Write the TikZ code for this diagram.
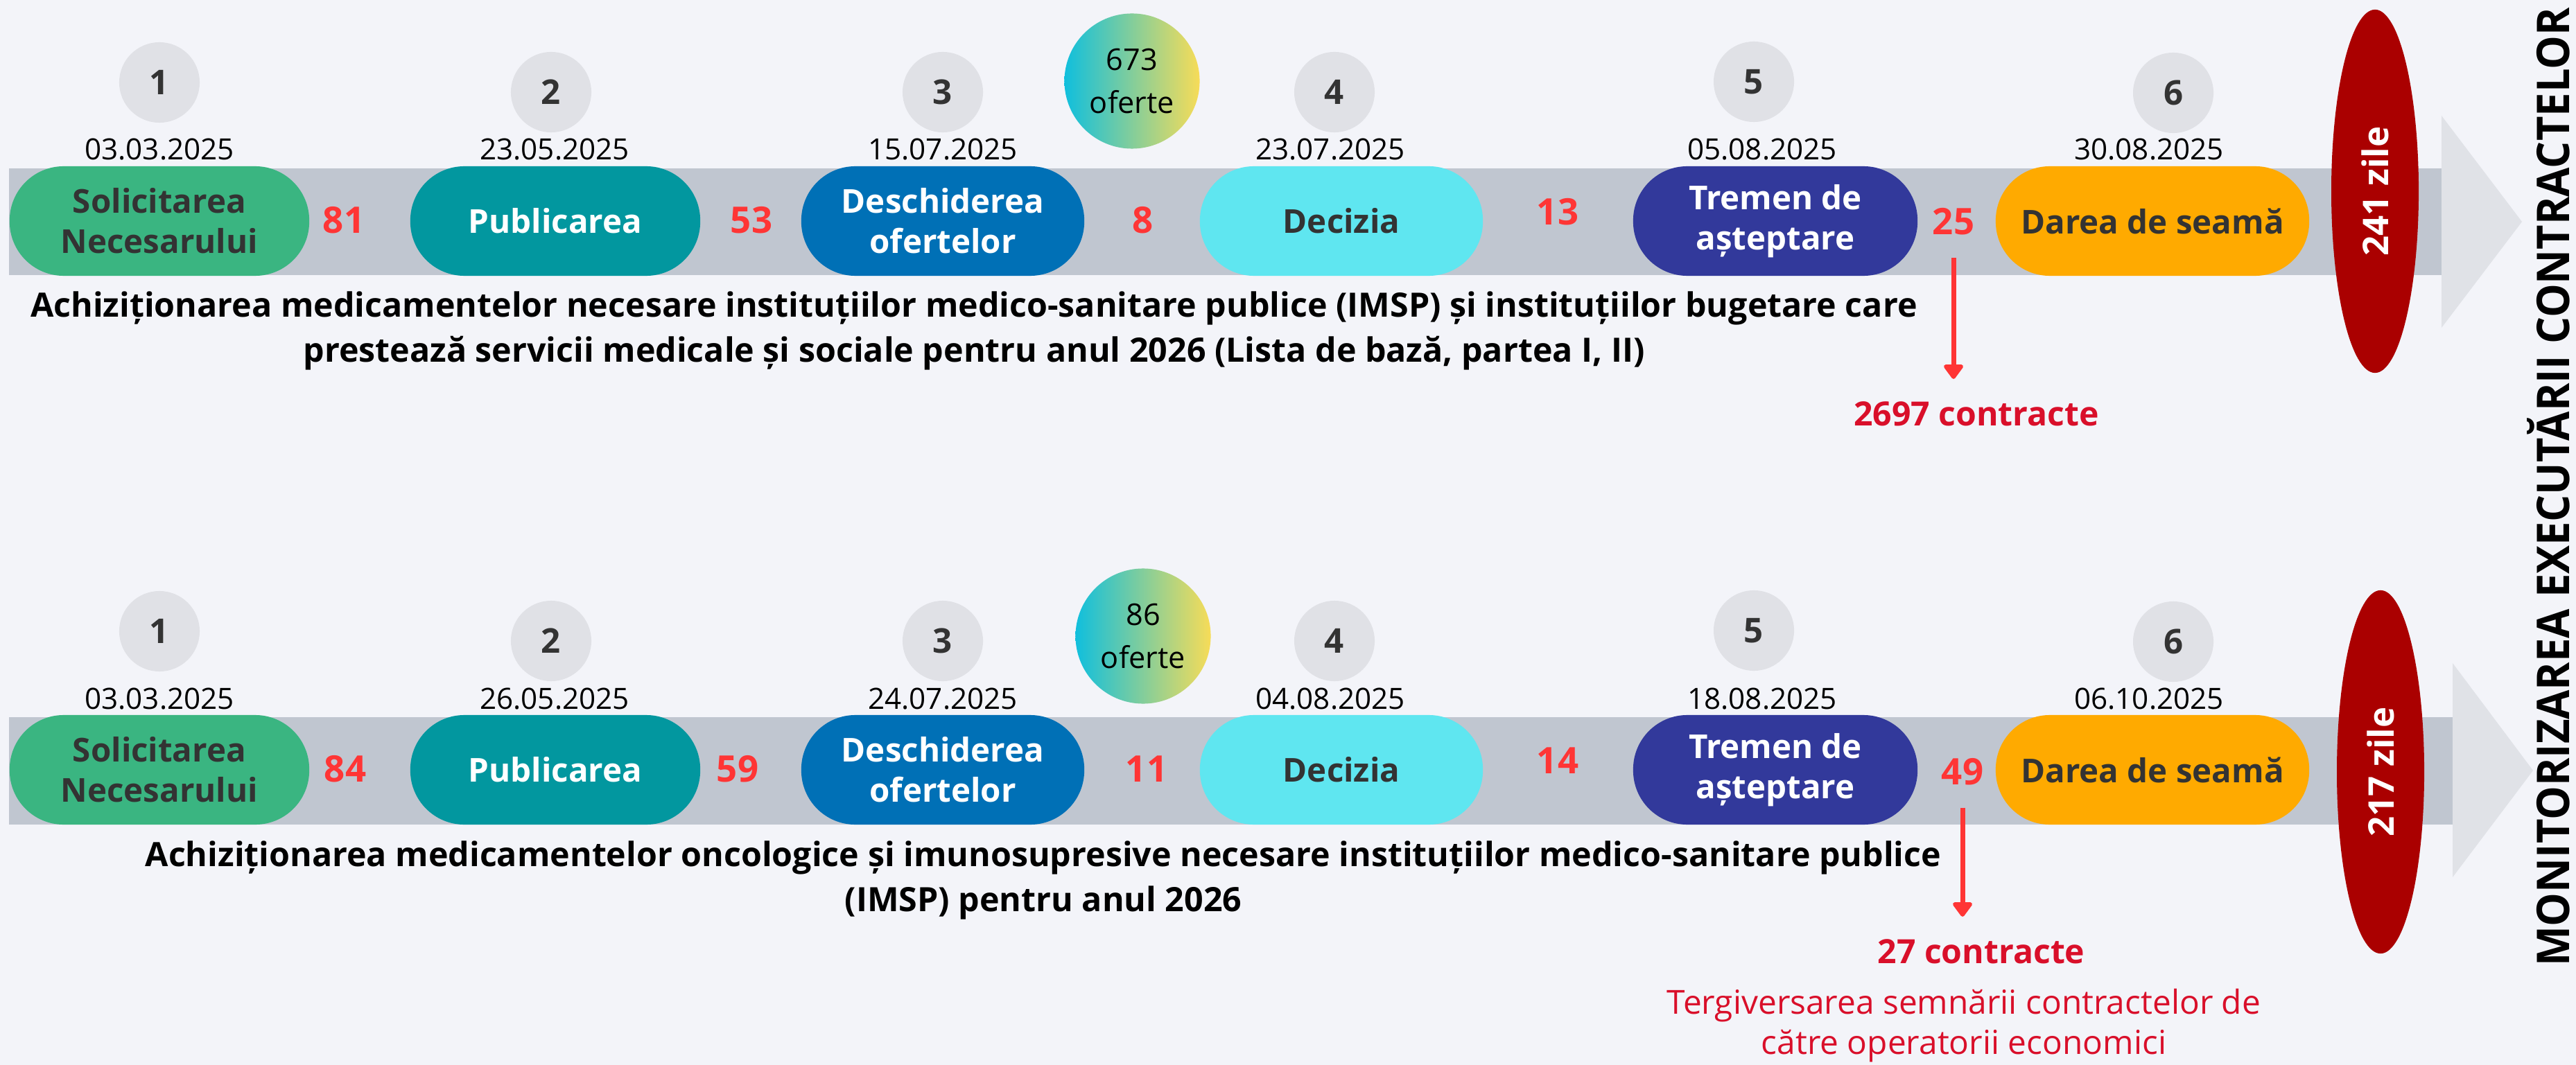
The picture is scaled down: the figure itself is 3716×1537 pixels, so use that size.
\documentclass[tikz,border=0pt]{standalone}
\usepackage{fontspec}
\setmainfont{Open Sans}
\usetikzlibrary{arrows.meta, positioning, shapes.geometric}
\definecolor{bgcol}{HTML}{F3F4F9}
\definecolor{bandgray}{HTML}{C0C6D0}
\definecolor{headgray}{HTML}{E0E2E7}
\definecolor{circgray}{HTML}{E0E1E6}
\definecolor{darktext}{HTML}{333333}
\definecolor{stepgreen}{HTML}{3AB581}
\definecolor{stepteal}{HTML}{02979F}
\definecolor{stepblue}{HTML}{0070B6}
\definecolor{stepcyan}{HTML}{5FE6F0}
\definecolor{stepindigo}{HTML}{32399B}
\definecolor{steporange}{HTML}{FFAA00}
\definecolor{numred}{HTML}{FF3535}
\definecolor{dayred}{HTML}{AA0000}
\definecolor{crimson}{HTML}{D90F2A}
\definecolor{gcyan}{HTML}{10BFDD}
\definecolor{ggreen}{HTML}{88D19C}
\definecolor{gyellow}{HTML}{F7DC58}

\begin{document}
\begin{tikzpicture}[x=0.01cm, y=-0.01cm, >=Stealth,
    stepnum/.style={circle, fill=circgray, minimum size=1.16cm, inner sep=0pt,
      text=darktext, font=\fontsize{14}{16}\selectfont\bfseries},
    datelbl/.style={font=\fontsize{12}{14}\selectfont},
    pill/.style={rectangle, rounded corners=0.78cm, minimum height=1.58cm,
      inner sep=0pt, align=center, font=\fontsize{13.5}{16.5}\selectfont\bfseries},
    gapnum/.style={text=numred, font=\fontsize{15}{18}\selectfont\bfseries},
    offers/.style={circle, minimum size=1.95cm, inner sep=0pt, align=center,
      left color=gcyan, middle color=ggreen, right color=gyellow,
      font=\fontsize{12.3}{17.5}\selectfont},
    daysbox/.style={ellipse, fill=dayred, minimum width=5.24cm, minimum height=1.26cm,
      inner sep=0pt, rotate=90, text=white, font=\fontsize{14.5}{16}\selectfont\bfseries},
    caption/.style={align=center, font=\fontsize{13.75}{18.5}\selectfont\bfseries},
    contrlbl/.style={text=crimson, font=\fontsize{13.7}{16}\selectfont\bfseries},
    redarrow/.style={-{Triangle[width=0.32cm, length=0.23cm, round]},
      line width=0.07cm, draw=numred}]

    % Background
    \fill[bgcol] (0,0) rectangle (3716,1537);
    \useasboundingbox (0,0) rectangle (3716,1537);

    % ---------------- Row 1 ----------------
    \fill[bandgray] (13,243) rectangle (3522,397);
    \fill[headgray] (3522,167) -- (3638,320) -- (3522,473) -- cycle;

    \foreach \n/\x/\y/\dx/\d in {1/230/119/230/03.03.2025, 2/795/133/800/23.05.2025,
        3/1360/133/1360/15.07.2025, 4/1925/133/1919/23.07.2025,
        5/2530/118/2542/05.08.2025, 6/3135/134/3100/30.08.2025} {
        \node[stepnum] (r1c\n) at (\x,\y) {\n};
        \node[datelbl] (r1d\n) at (\dx,216) {\d};
    }

    \foreach \n/\x/\w/\col/\tc/\lbl in {1/230/4.32/stepgreen/darktext/{Solicitarea\\Necesarului},
        2/801/4.18/stepteal/white/{Publicarea}, 3/1360/4.08/stepblue/white/{Deschiderea\\ofertelor},
        4/1935/4.08/stepcyan/darktext/{Decizia}, 5/2561/4.10/stepindigo/white/{Tremen de\\așteptare},
        6/3105/4.52/steporange/darktext/{Darea de seamă}} {
        \node[pill, fill=\col, text=\tc, minimum width=\w cm] (r1s\n) at (\x,319) {\lbl};
    }

    \foreach \n/\x/\y/\v in {1/496/318/81, 2/1084/318/53, 3/1649/318/8, 4/2247/306/13, 5/2818/320/25}
        \node[gapnum] (r1g\n) at (\x,\y) {\v};

    \node[offers] (r1off) at (1633,117) {673\\oferte};
    \node[daysbox] (r1days) at (3426,276) {241 zile};

    \node[caption] (r1cap) at (1405,477) {Achiziționarea medicamentelor necesare instituțiilor medico-sanitare publice (IMSP) și instituțiilor bugetare care\\prestează servicii medicale și sociale pentru anul 2026 (Lista de bază, partea I, II)};

    \node[contrlbl] (r1contr) at (2851,597) {2697 contracte};
    \draw[redarrow] ([yshift=-0.2cm]r1g5.south) -- ([yshift=0.2cm]r1g5.south |- r1contr.north);

    % ---------------- Row 2 ----------------
    \fill[bandgray] (13,1035) rectangle (3538,1190);
    \fill[headgray] (3538,957) -- (3654,1112) -- (3538,1266) -- cycle;

    \foreach \n/\x/\y/\dx/\d in {1/230/911/230/03.03.2025, 2/795/925/800/26.05.2025,
        3/1360/925/1360/24.07.2025, 4/1925/925/1919/04.08.2025,
        5/2530/910/2542/18.08.2025, 6/3135/926/3100/06.10.2025} {
        \node[stepnum] (r2c\n) at (\x,\y) {\n};
        \node[datelbl] (r2d\n) at (\dx,1008) {\d};
    }

    \foreach \n/\x/\w/\col/\tc/\lbl in {1/230/4.32/stepgreen/darktext/{Solicitarea\\Necesarului},
        2/801/4.18/stepteal/white/{Publicarea}, 3/1360/4.08/stepblue/white/{Deschiderea\\ofertelor},
        4/1935/4.08/stepcyan/darktext/{Decizia}, 5/2561/4.10/stepindigo/white/{Tremen de\\așteptare},
        6/3105/4.52/steporange/darktext/{Darea de seamă}} {
        \node[pill, fill=\col, text=\tc, minimum width=\w cm] (r2s\n) at (\x,1111) {\lbl};
    }

    \foreach \n/\x/\y/\v in {1/498/1110/84, 2/1064/1110/59, 3/1654/1110/11, 4/2247/1098/14, 5/2831/1114/49}
        \node[gapnum] (r2g\n) at (\x,\y) {\v};

    \node[offers] (r2off) at (1649,918) {86\\oferte};
    \node[daysbox] (r2days) at (3434,1114) {217 zile};

    \node[caption] (r2cap) at (1505,1270) {Achiziționarea medicamentelor oncologice și imunosupresive necesare instituțiilor medico-sanitare publice\\(IMSP) pentru anul 2026};

    \node[contrlbl] (r2contr) at (2858,1373) {27 contracte};
    \draw[redarrow] ([yshift=-0.2cm]r2g5.south) -- ([yshift=0.2cm]r2g5.south |- r2contr.north);
    \node[text=crimson, align=center, font=\fontsize{13.6}{16.3}\selectfont] (r2note)
        at (2833,1480) {Tergiversarea semnării contractelor de\\către operatorii economici};

    % Vertical title
    \node[rotate=90, anchor=base, inner sep=0pt, font=\fontsize{18.5}{20}\selectfont\bfseries] (title)
        at (3706,703) {\resizebox{13.83cm}{\height}{MONITORIZAREA EXECUTĂRII CONTRACTELOR}};
\end{tikzpicture}
\end{document}
